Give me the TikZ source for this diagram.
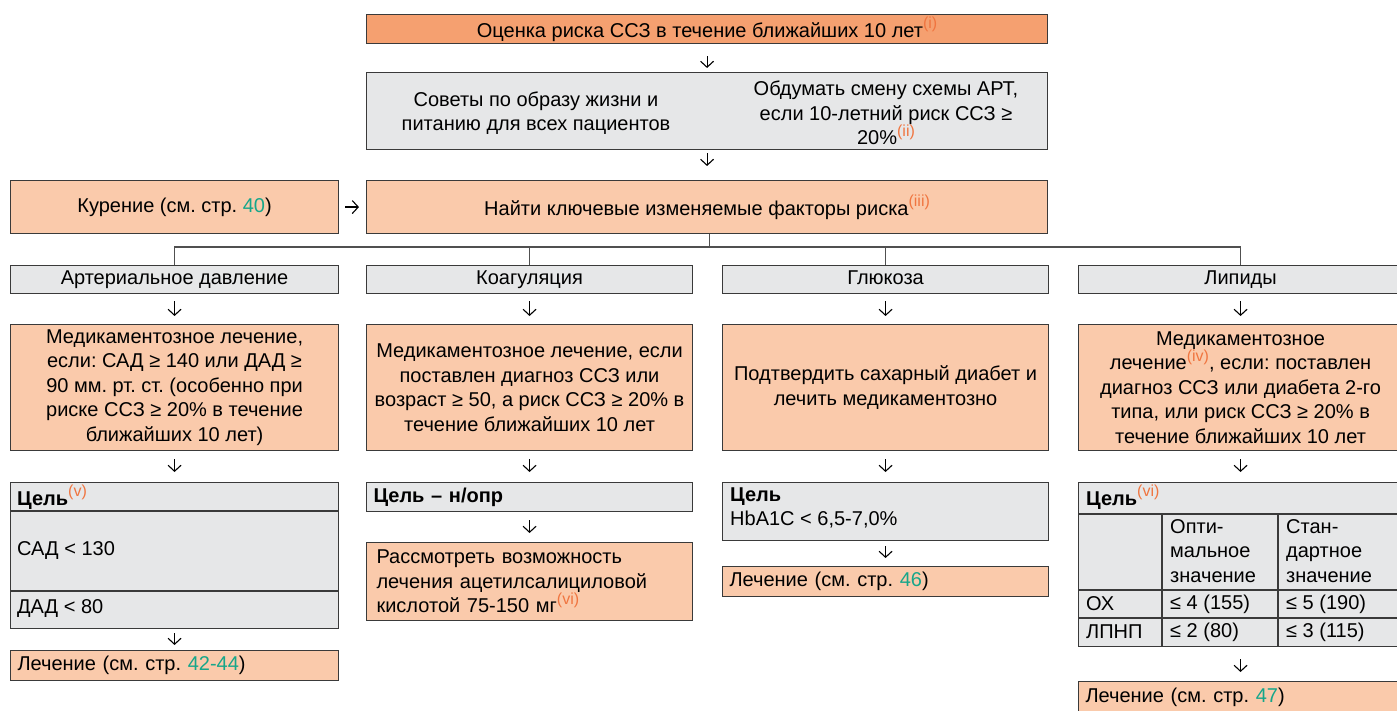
\documentclass[tikz,border=0pt]{standalone}
\usepackage{fontspec}
\setmainfont{Liberation Sans}
\usetikzlibrary{arrows.meta}
\definecolor{topfill}{HTML}{F5A070}
\definecolor{salmon}{HTML}{FACAAB}
\definecolor{greyfill}{HTML}{E6E7E8}
\definecolor{bordc}{HTML}{3A3A3A}
\definecolor{pgc}{HTML}{16A68A}
\definecolor{supc}{HTML}{F07540}
\definecolor{connc}{HTML}{505050}
\newcommand\refmark[1]{\raisebox{8.5pt}{\fontsize{16}{16}\selectfont\textcolor{supc}{(#1)}}}
\newcommand\pg[1]{\textcolor{pgc}{#1}}
\frenchspacing
\tikzset{
  every node/.style={font=\fontsize{20}{24.5}\selectfont\frenchspacing, inner sep=0pt},
  box/.style={draw=bordc, line width=1.1pt, anchor=north west, align=center},
  topbox/.style={box, fill=topfill},
  sbox/.style={box, fill=salmon},
  gbox/.style={box, fill=greyfill},
  hbox/.style={gbox, text height=14.5pt, text depth=4pt},
  lbox/.style={box, align=left, inner xsep=7pt},
  lbl/.style={anchor=west, align=left},
  arr/.style={draw=black, line width=1.1pt, -{Straight Barb[length=6pt,width=13pt,line width=1.1pt]}},
  conn/.style={draw=connc, line width=1.3pt},
  grid/.style={draw=bordc, line width=1.1pt}
}
\begin{document}
\begin{tikzpicture}[x=1pt,y=-1pt]
\useasboundingbox (0,0) rectangle (1397,711);

% top
\node[topbox, minimum width=681, minimum height=29] (top) at (366,14) {Оценка риска ССЗ в течение ближайших 10 лет\refmark{i}};
\node[gbox, minimum width=681, minimum height=77] (adv) at (366,72) {};
\node[align=center] (advL) at (536,113) {Советы по образу жизни и\\питанию для всех пациентов};
\node[align=center] (advR) at (886,113) {Обдумать смену схемы АРТ,\\если 10-летний риск ССЗ ≥\\20\%\refmark{ii}};
\node[sbox, minimum width=328, minimum height=53] (kur) at (10,180) {Курение (см. стр. \pg{40})};
\node[sbox, minimum width=681, minimum height=53] (find) at (366,180) {Найти ключевые изменяемые факторы риска\refmark{iii}};

\draw[arr, shorten <=12pt, shorten >=4pt] (top.south) -- (adv.north);
\draw[arr, shorten <=3pt, shorten >=14pt] (adv.south) -- (find.north);
\draw[arr, shorten <=6pt, shorten >=7pt] (kur.east) -- (find.west);

% headers
\node[hbox, minimum width=328, minimum height=28] (h1) at (10,265) {Артериальное давление};
\node[hbox, minimum width=326, minimum height=28] (h2) at (366,265) {Коагуляция};
\node[hbox, minimum width=326, minimum height=28] (h3) at (722,265) {Глюкоза};
\node[hbox, minimum width=324, minimum height=28] (h4) at (1078,265) {Липиды};

\draw[conn] ([xshift=2.5pt]find.south) -- ++(0,14);
\draw[conn] (h1.north) -- ++(0,-18) -| (h4.north);
\draw[conn] (h2.north) -- ++(0,-18);
\draw[conn] (h3.north) -- ++(0,-18);

% medication boxes
\node[sbox, minimum width=328, minimum height=126] (m1) at (10,324) {Медикаментозное лечение,\\если: САД ≥ 140 или ДАД ≥\\90 мм. рт. ст. (особенно при\\риске ССЗ ≥ 20\% в течение\\ближайших 10 лет)};
\node[sbox, minimum width=326, minimum height=126] (m2) at (366,324) {Медикаментозное лечение, если\\поставлен диагноз ССЗ или\\возраст ≥ 50, а риск ССЗ ≥ 20\% в\\течение ближайших 10 лет};
\node[sbox, minimum width=326, minimum height=126] (m3) at (722,324) {Подтвердить сахарный диабет и\\лечить медикаментозно};
\node[sbox, minimum width=324, minimum height=126] (m4) at (1078,324) {Медикаментозное\\лечение\refmark{iv}, если: поставлен\\диагноз ССЗ или диабета 2-го\\типа, или риск ССЗ ≥ 20\% в\\течение ближайших 10 лет};

% column 1 goal
\node[gbox, minimum width=328, minimum height=146] (g1) at (10,482) {};
\draw[grid] (10,511) -- (338,511);
\draw[grid] (10,591) -- (338,591);
\node[lbl] (g1a) at (17,497) {\textbf{Цель}\refmark{v}};
\node[lbl] (g1b) at (17,551) {САД < 130};
\node[lbl] (g1c) at (17,609) {ДАД < 80};
\node[sbox, lbox, text width=314, minimum height=30] (t1) at (10,650) {Лечение (см. стр. \pg{42-44})};
\draw[arr, shorten <=4pt, shorten >=5pt] (g1.south) -- (t1.north);

% column 2
\node[gbox, lbox, text width=312, minimum height=29] (g2) at (366,482) {\textbf{Цель – н/опр}};
\node[sbox, lbox, inner xsep=10pt, text width=306, minimum height=78] (t2) at (366,542) {Рассмотреть возможность\\лечения ацетилсалициловой\\кислотой 75-150 мг\refmark{vi}};
\draw[arr, shorten <=8pt, shorten >=9pt] (g2.south) -- (t2.north);

% column 3
\node[gbox, minimum width=326, minimum height=58] (g3) at (722,482) {};
\node[lbl] (g3a) at (730,497) {\textbf{Цель}};
\node[lbl] (g3b) at (730,520) {HbA1C < 6,5-7,0\%};
\node[sbox, lbox, text width=312, minimum height=30] (t3) at (722,566) {Лечение (см. стр. \pg{46})};
\draw[arr, shorten <=5pt, shorten >=8pt] (g3.south) -- (t3.north);

% column 4
\node[gbox, minimum width=324, minimum height=164] (g4) at (1078,482) {};
\draw[grid] (1078,514) -- (1402,514);
\draw[grid] (1078,590) -- (1402,590);
\draw[grid] (1078,618) -- (1402,618);
\draw[grid] (1162,514) -- (1162,646);
\draw[grid] (1278,514) -- (1278,646);
\node[lbl] (g4a) at (1086,497) {\textbf{Цель}\refmark{vi}};
\node[lbl] (g4b) at (1170,551) {Опти-\\мальное\\значение};
\node[lbl] (g4c) at (1286,551) {Стан-\\дартное\\значение};
\node[lbl] (g4d) at (1086,604) {ОХ};
\node[lbl] (g4e) at (1170,604) {≤ 4 (155)};
\node[lbl] (g4f) at (1286,604) {≤ 5 (190)};
\node[lbl] (g4g) at (1086,632) {ЛПНП};
\node[lbl] (g4h) at (1170,632) {≤ 2 (80)};
\node[lbl] (g4i) at (1286,632) {≤ 3 (115)};
\node[sbox, lbox, text width=310, minimum height=32] (t4) at (1078,681) {Лечение (см. стр. \pg{47})};
\draw[arr, shorten <=12pt, shorten >=9pt] (g4.south) -- (t4.north);

% arrows between rows
\foreach \i in {1,2,3,4}{
  \draw[arr, shorten <=7pt, shorten >=8pt] (h\i.south) -- (m\i.north);
  \draw[arr, shorten <=8pt, shorten >=10pt] (m\i.south) -- (g\i.north);
}
\end{tikzpicture}
\end{document}
